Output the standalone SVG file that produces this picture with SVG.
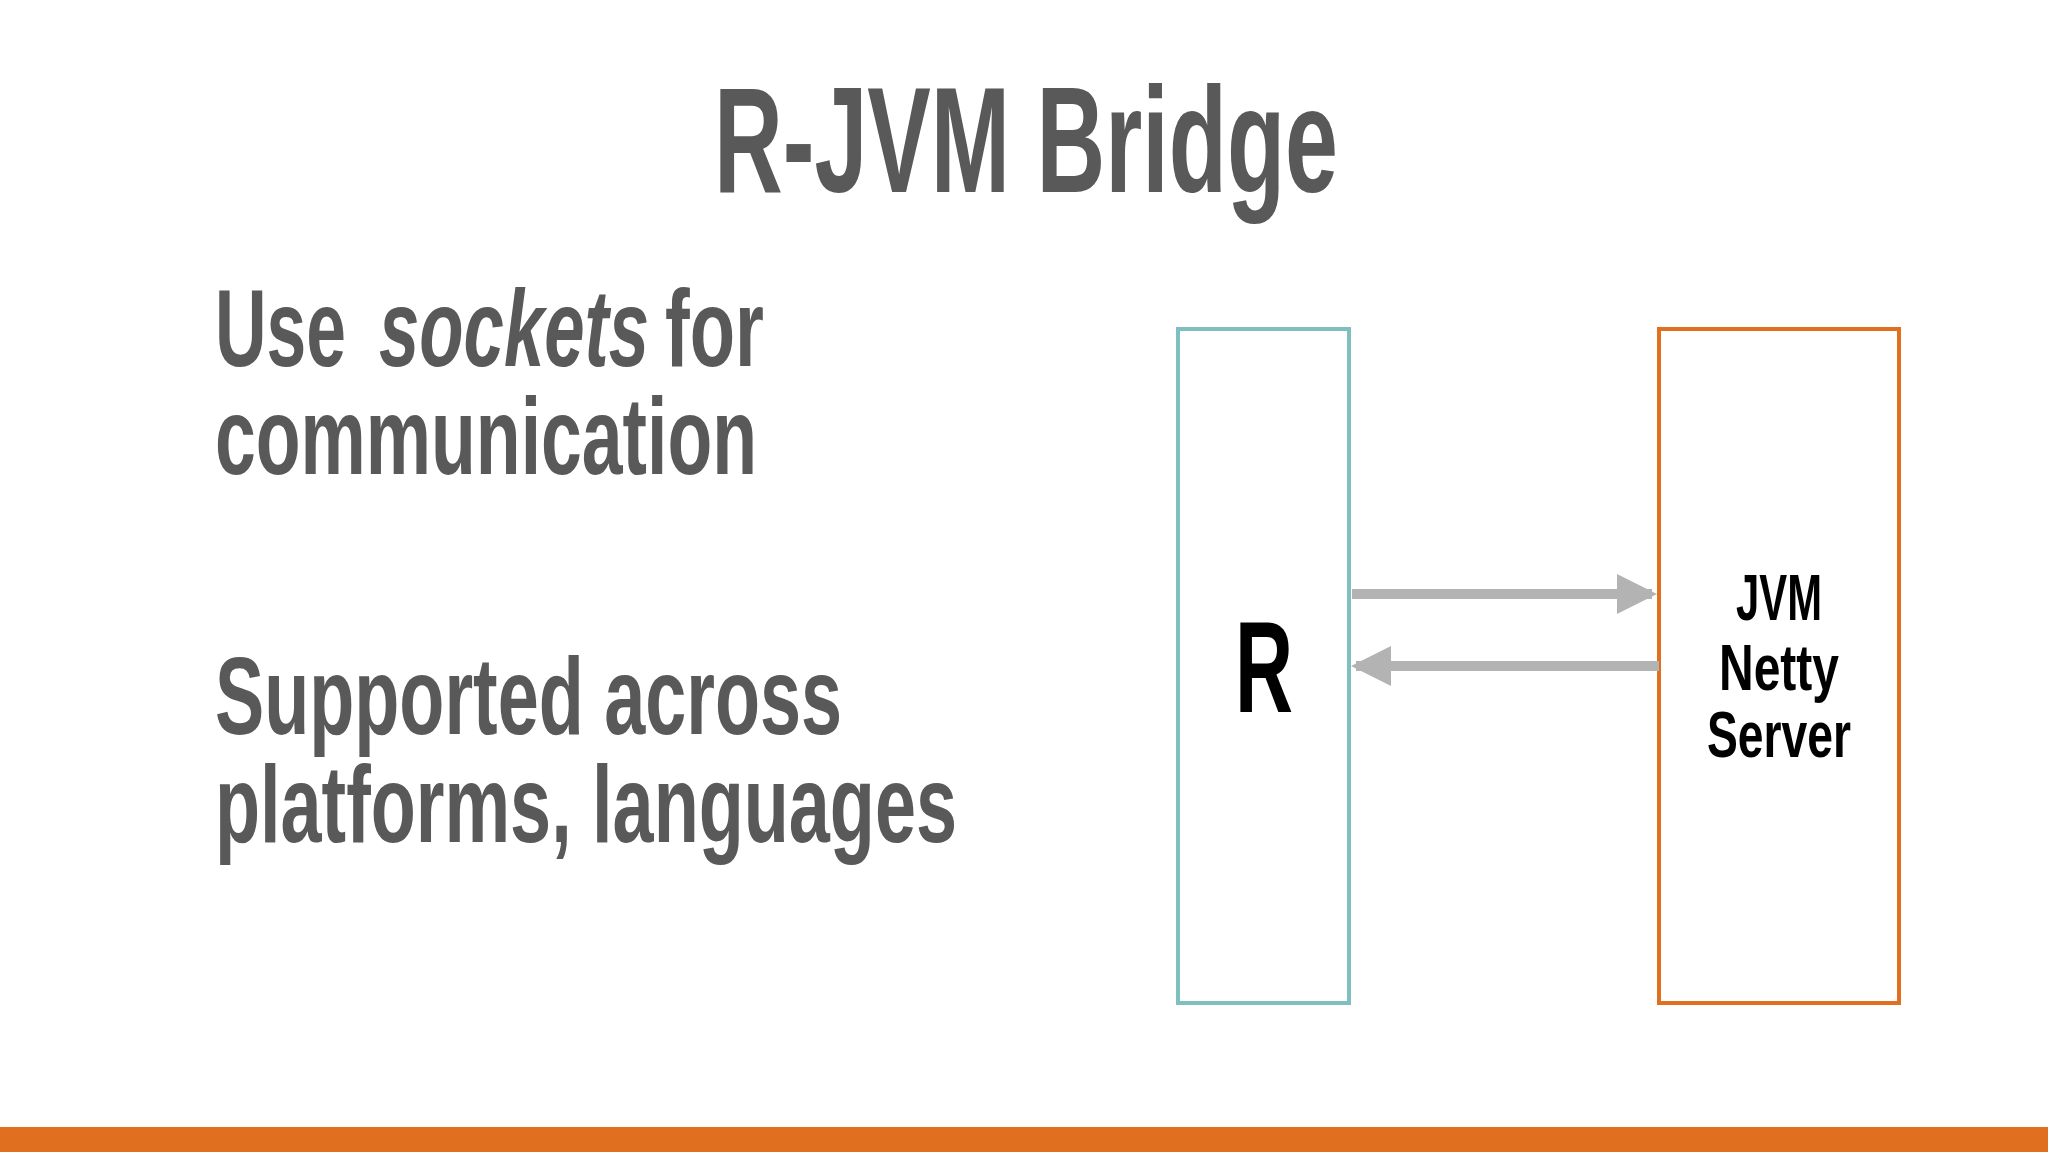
<svg xmlns="http://www.w3.org/2000/svg" width="2048" height="1152" viewBox="0 0 2048 1152">
<style>
.t{font-family:"Liberation Sans",Arial,sans-serif;fill:#595959;font-weight:bold}
.n{font-family:"Liberation Sans",Arial,sans-serif;fill:#000;font-weight:bold}
</style>
<defs>
<marker id="ah" markerWidth="4" markerHeight="4" refX="3.5" refY="2" orient="auto" markerUnits="strokeWidth"><path d="M0,0 L4,2 L0,4 z" fill="#b3b3b3"/></marker>
</defs>
<rect width="2048" height="1152" fill="#fff"/>
<rect x="0" y="1127" width="2048" height="25" fill="#e07020"/>
<text class="t" x="714" y="192" font-size="150" textLength="624" lengthAdjust="spacingAndGlyphs">R-JVM Bridge</text>
<text class="t" x="215" y="366" font-size="110" textLength="131" lengthAdjust="spacingAndGlyphs">Use</text>
<text class="t" x="379" y="366" font-size="110" font-style="italic" textLength="270" lengthAdjust="spacingAndGlyphs">sockets</text>
<text class="t" x="665" y="366" font-size="110" textLength="99" lengthAdjust="spacingAndGlyphs">for</text>
<text class="t" x="215" y="474" font-size="110" textLength="542" lengthAdjust="spacingAndGlyphs">communication</text>
<text class="t" x="215" y="734" font-size="110" textLength="627" lengthAdjust="spacingAndGlyphs">Supported across</text>
<text class="t" x="215" y="842" font-size="110" textLength="742" lengthAdjust="spacingAndGlyphs">platforms, languages</text>
<g id="r">
<rect x="1178" y="329" width="171" height="674" fill="none" stroke="#7fbfbf" stroke-width="4"/>
<text class="n" x="1264" y="712" font-size="130" text-anchor="middle" textLength="58" lengthAdjust="spacingAndGlyphs">R</text>
</g>
<g id="jvm">
<rect x="1659" y="329" width="240" height="674" fill="none" stroke="#e07020" stroke-width="4"/>
<text class="n" x="1779" y="620" font-size="64" text-anchor="middle" textLength="86" lengthAdjust="spacingAndGlyphs">JVM</text>
<text class="n" x="1779" y="690" font-size="64" text-anchor="middle" textLength="120" lengthAdjust="spacingAndGlyphs">Netty</text>
<text class="n" x="1779" y="757" font-size="64" text-anchor="middle" textLength="144" lengthAdjust="spacingAndGlyphs">Server</text>
</g>
<g id="connectors" stroke="#b3b3b3" stroke-width="10" fill="none">
<line x1="1352" y1="594" x2="1652" y2="594" marker-end="url(#ah)"/>
<line x1="1659" y1="666" x2="1356" y2="666" marker-end="url(#ah)"/>
</g>
</svg>
